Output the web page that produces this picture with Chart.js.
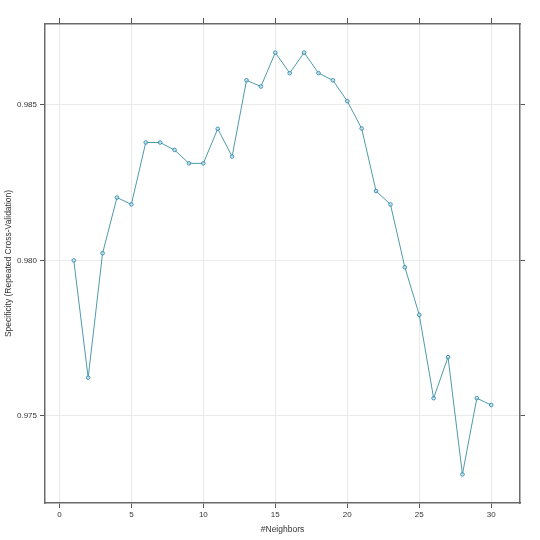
<!DOCTYPE html>
<html>
<head>
<meta charset="utf-8">
<script src="https://cdn.jsdelivr.net/npm/chart.js@4.4.1/dist/chart.umd.min.js"></script>
<style>
  html, body { margin: 0; padding: 0; background: #fff; }
  #wrap { width: 540px; height: 540px; }
</style>
</head>
<body>
<div id="wrap"><canvas id="c" width="540" height="540"></canvas></div>
<script>
// #Neighbors vs specificity (repeated CV)
const neighbors = [1, 2, 3, 4, 5, 6, 7, 8, 9, 10, 11, 12, 13, 14, 15,
                   16, 17, 18, 19, 20, 21, 22, 23, 24, 25, 26, 27, 28, 29, 30];
const specificity = [0.98000, 0.97623, 0.98023, 0.98202, 0.98180, 0.98379, 0.98379, 0.98355, 0.98312, 0.98312,
                     0.98423, 0.98334, 0.98579, 0.98559, 0.98668, 0.98602, 0.98668, 0.98602, 0.98579, 0.98512,
                     0.98424, 0.98223, 0.98180, 0.97978, 0.97825, 0.97557, 0.97689, 0.97312, 0.97557, 0.97535];
const xTicks = [0, 5, 10, 15, 20, 25, 30];
const yTicks = [0.975, 0.980, 0.985];

const xTitle = '#Neighbors';
const yTitle = 'Specificity (Repeated Cross-Validation)';

const FONT = 'Liberation Sans, Arial, sans-serif';
const points = neighbors.map((n, i) => ({ x: n, y: specificity[i] }));

function fixSize(prop, px) {
    return function (scale) { scale[prop] = px; };
}

const frame = { display: true, color: '#6b6b6b', width: 1.5 };

const config = {
    type: 'line',
    data: {
        datasets: [{
            data: points,
            borderColor: '#4f9aa8',
            borderWidth: 1,
            pointRadius: 1.8,
            pointBorderWidth: 1,
            pointBorderColor: '#3b8fb3',
            pointBackgroundColor: 'rgba(210,235,245,0.6)',
            tension: 0,
            fill: false
        }]
    },
    options: {
        responsive: false,
        animation: false,
        events: [],
        layout: { padding: 0 },
        plugins: { legend: { display: false }, tooltip: { enabled: false } },
        scales: {
            x: {
                type: 'linear', position: 'bottom',
                min: -1, max: 32,
                afterFit: fixSize('height', 37),
                afterBuildTicks: s => { s.ticks = xTicks.map(v => ({ value: v })); },
                border: frame,
                grid: { color: '#e9e9e9', lineWidth: 1, tickColor: '#555', tickLength: 5 },
                ticks: { color: '#333', font: { family: FONT, size: 8 }, padding: 2, maxRotation: 0 },
                title: { display: true, text: xTitle, color: '#333',
                         font: { family: FONT, size: 8.5 }, padding: { top: 0, bottom: 5 } }
            },
            y: {
                type: 'linear', position: 'left',
                min: 0.9722, max: 0.9876,
                afterFit: fixSize('width', 45),
                afterBuildTicks: s => { s.ticks = yTicks.map(v => ({ value: v })); },
                border: frame,
                grid: { color: '#e9e9e9', lineWidth: 1, tickColor: '#555', tickLength: 5 },
                ticks: { color: '#333', font: { family: FONT, size: 8 }, padding: 3,
                         callback: v => Number(v).toFixed(3) },
                title: { display: true, text: yTitle, color: '#333',
                         font: { family: FONT, size: 8.5 }, padding: { top: 4, bottom: 0 } }
            },
            x2: {
                type: 'linear', position: 'top',
                min: -1, max: 32,
                afterFit: fixSize('height', 24),
                afterBuildTicks: s => { s.ticks = xTicks.map(v => ({ value: v })); },
                border: frame,
                grid: { drawOnChartArea: false, tickColor: '#555', tickLength: 6 },
                ticks: { callback: () => '', padding: 0 }
            },
            y2: {
                type: 'linear', position: 'right',
                min: 0.9722, max: 0.9876,
                afterFit: fixSize('width', 20),
                afterBuildTicks: s => { s.ticks = yTicks.map(v => ({ value: v })); },
                border: frame,
                grid: { drawOnChartArea: false, tickColor: '#555', tickLength: 5 },
                ticks: { callback: () => '', padding: 0 }
            }
        }
    }
};

new Chart(document.getElementById('c'), config);
</script>
</body>
</html>
